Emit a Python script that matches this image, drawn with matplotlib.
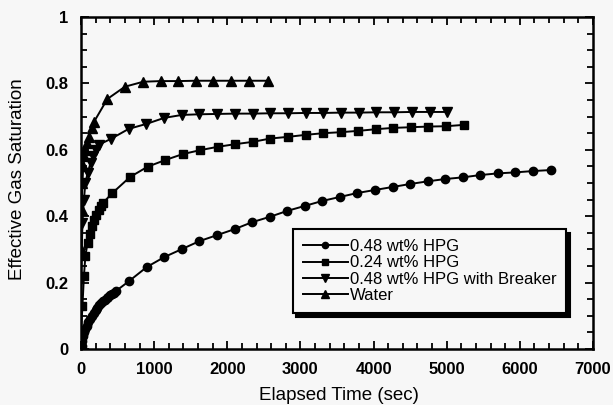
import numpy as np
import matplotlib.pyplot as plt
from matplotlib.ticker import MultipleLocator

plt.rcParams['font.family'] = ['Liberation Sans', 'DejaVu Sans']

# 0.48 wt% HPG (circles)
t_hpg48 = [0, 10, 20, 30, 45, 60, 80, 100, 125, 150, 175, 200, 225, 250, 275, 300,
           325, 350, 375, 400, 425, 450, 480, 660, 900, 1140, 1380, 1620, 1860, 2100,
           2340, 2580, 2820, 3060, 3300, 3540, 3780, 4020, 4260, 4500, 4740, 4980,
           5220, 5460, 5700, 5940, 6180, 6420]
s_hpg48 = [0.0, 0.01, 0.025, 0.04, 0.05, 0.06, 0.07, 0.08, 0.09, 0.10, 0.108, 0.118,
           0.125, 0.132, 0.138, 0.144, 0.149, 0.154, 0.158, 0.162, 0.166, 0.170, 0.175,
           0.205, 0.247, 0.277, 0.301, 0.325, 0.343, 0.361, 0.382, 0.398, 0.416, 0.431,
           0.446, 0.458, 0.470, 0.479, 0.488, 0.497, 0.505, 0.512, 0.517, 0.524, 0.529,
           0.532, 0.536, 0.539]

# 0.24 wt% HPG (squares)
t_hpg24 = [0, 20, 40, 60, 90, 120, 150, 180, 210, 240, 270, 300, 430, 670, 910, 1150,
           1390, 1630, 1870, 2110, 2350, 2590, 2830, 3070, 3310, 3550, 3790, 4030, 4270,
           4510, 4750, 4990, 5230]
s_hpg24 = [0.05, 0.13, 0.22, 0.28, 0.32, 0.345, 0.37, 0.39, 0.405, 0.42, 0.43, 0.44,
           0.47, 0.518, 0.549, 0.569, 0.587, 0.599, 0.609, 0.617, 0.624, 0.634, 0.639,
           0.645, 0.650, 0.653, 0.657, 0.662, 0.666, 0.668, 0.670, 0.671, 0.675]

# 0.48 wt% HPG with Breaker (down triangles)
t_brk = [0, 20, 40, 60, 90, 130, 160, 200, 240, 410, 652, 894, 1136, 1378, 1620, 1862,
         2104, 2346, 2588, 2830, 3072, 3314, 3556, 3798, 4040, 4282, 4524, 4766, 5008]
s_brk = [0.21, 0.38, 0.45, 0.50, 0.53, 0.56, 0.58, 0.60, 0.615, 0.633, 0.663, 0.678,
         0.696, 0.705, 0.707, 0.708, 0.709, 0.709, 0.710, 0.710, 0.711, 0.711, 0.712,
         0.712, 0.713, 0.713, 0.714, 0.714, 0.714]

# Water (up triangles)
t_water = [0, 10, 20, 30, 45, 60, 80, 110, 150, 180, 360, 600, 850, 1090, 1330, 1575,
           1810, 2055, 2300, 2550]
s_water = [0.30, 0.42, 0.50, 0.55, 0.58, 0.60, 0.62, 0.64, 0.665, 0.685, 0.753, 0.79,
           0.805, 0.807, 0.807, 0.808, 0.808, 0.808, 0.808, 0.808]

bg = '#f7f7f7'
fig = plt.figure(figsize=(6.13, 4.05), dpi=100, facecolor=bg)
ax = fig.add_axes([81/613, 1 - 349/405, 512/613, 332/405], facecolor=bg)

kw = dict(color='black', lw=1.4)
ax.plot(t_hpg48, s_hpg48, marker='o', ms=6, label='0.48 wt% HPG', **kw)
ax.plot(t_hpg24, s_hpg24, marker='s', ms=5.8, label='0.24 wt% HPG', **kw)
ax.plot(t_brk, s_brk, marker='v', ms=6.8, label='0.48 wt% HPG with Breaker', **kw)
ax.plot(t_water, s_water, marker='^', ms=6.8, label='Water', **kw)

ax.set_xlim(0, 7000)
ax.set_ylim(0, 1)
ax.xaxis.set_major_locator(MultipleLocator(1000))
ax.xaxis.set_minor_locator(MultipleLocator(200))
ax.yaxis.set_minor_locator(MultipleLocator(0.05))
ax.set_yticks([0, 0.2, 0.4, 0.6, 0.8, 1.0])
ax.set_yticklabels(['0', '0.2', '0.4', '0.6', '0.8', '1'])
ax.tick_params(which='both', direction='in', top=True, right=True, width=1.3,
               labelsize=12, pad=9)
ax.tick_params(which='major', length=6)
ax.tick_params(which='minor', length=4)
for lab in ax.get_xticklabels() + ax.get_yticklabels():
    lab.set_fontweight('bold')
for sp in ax.spines.values():
    sp.set_linewidth(1.8)

ax.set_xlabel('Elapsed Time (sec)', fontsize=13.5, va='center')
ax.xaxis.set_label_coords(0.503, -0.1386)
ax.set_ylabel('Effective Gas Saturation', fontsize=13.5, va='center')
ax.yaxis.set_label_coords(-0.124, 0.512)

leg = ax.legend(loc='upper left', bbox_to_anchor=(0.414, 0.361), borderaxespad=0,
                fontsize=12, handlelength=2.7, handletextpad=0.1, labelspacing=0.08,
                markerscale=0.75, fancybox=False, framealpha=1, facecolor=bg,
                edgecolor='black', shadow={'color': 'black', 'alpha': 1, 'ox': 2.5, 'oy': -2.5},
                borderpad=0.6)
leg.get_frame().set_linewidth(1.5)

fig.savefig('out.png', dpi=100, facecolor=bg)
